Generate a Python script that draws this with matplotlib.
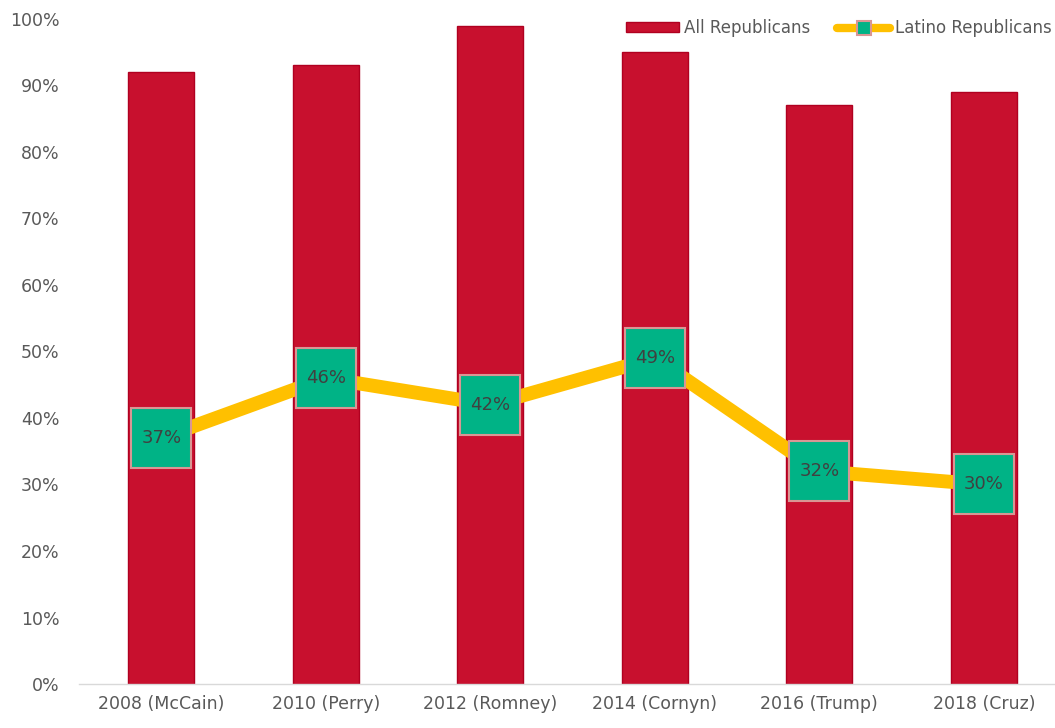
import numpy as np
import matplotlib.pyplot as plt

# Share of vote: all Republicans vs Latino Republicans
categories = ['2008 (McCain)', '2010 (Perry)', '2012 (Romney)', '2014 (Cornyn)', '2016 (Trump)', '2018 (Cruz)']
all_republicans = [92, 93, 99, 95, 87, 89]
latino_republicans = [37, 46, 42, 49, 32, 30]
y_ticks = [0, 10, 20, 30, 40, 50, 60, 70, 80, 90, 100]

plt.rcParams['font.family'] = ['DejaVu Sans']

fig = plt.figure(figsize=(10.55, 7.28), dpi=100)
ax = fig.add_axes([0.075, 0.0604, 0.9355, 0.9136])

x = np.arange(len(categories))
bars = ax.bar(x, all_republicans, width=0.4, color='#C8102E', edgecolor='#B00020',
              linewidth=1, label='All Republicans', zorder=2)
line, = ax.plot(x, latino_republicans, color='#FFC000', linewidth=10, marker='s',
                markersize=43, markerfacecolor='#00B386', markeredgecolor='#D99694',
                markeredgewidth=1.5, label='Latino Republicans', zorder=3)

for xi, v in zip(x, latino_republicans):
    ax.text(xi, v, f'{v}%', ha='center', va='center', fontsize=13,
            color='#404040', zorder=4)

ax.set_xlim(-0.5, 5.5)
ax.set_ylim(0, 100)
ax.set_yticks(y_ticks)
ax.set_yticklabels([f'{t}%' for t in y_ticks])
ax.set_xticks(x)
ax.set_xticklabels(categories)
ax.tick_params(axis='both', length=0, labelsize=12.5, colors='#595959', pad=8)
ax.tick_params(axis='y', pad=14)

for side in ['top', 'right', 'left']:
    ax.spines[side].set_visible(False)
ax.spines['bottom'].set_color('#D9D9D9')
ax.spines['bottom'].set_linewidth(1)

leg = ax.legend([bars, line], ['All Republicans', 'Latino Republicans'],
                loc='center right', bbox_to_anchor=(1052 / 1055, 1 - 28 / 728),
                bbox_transform=fig.transFigure, ncol=2, frameon=False,
                borderaxespad=0, borderpad=0,
                fontsize=12, labelcolor='#595959', handlelength=3.2, handleheight=0.5,
                columnspacing=1.6, handletextpad=0.3, markerscale=0.25)
for h in leg.legend_handles[1:]:
    h.set_linewidth(6)
    h.set_solid_capstyle('round')

fig.savefig('out.png', dpi=100)
